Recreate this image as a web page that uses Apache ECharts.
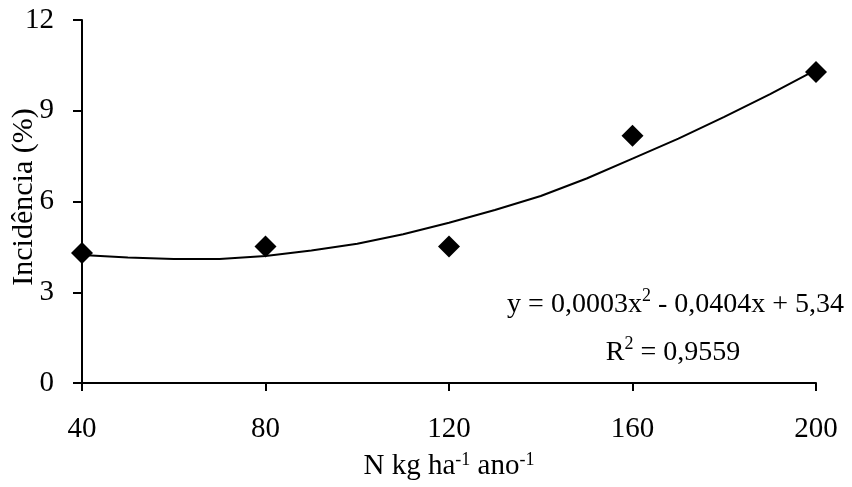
<!DOCTYPE html>
<html>
<head>
<meta charset="utf-8">
<script src="https://cdn.jsdelivr.net/npm/echarts@6/dist/echarts.min.js"></script>
<style>
  html, body { margin: 0; padding: 0; background: #fff; }
  #chart { width: 852px; height: 487px; }
</style>
</head>
<body>
<div id="chart"></div>
<script>
// observed points
var doses = [40, 80, 120, 160, 200];
var incidence = [4.3, 4.51, 4.51, 8.17, 10.28];

// trend line
var trendX = [40, 50, 60, 70, 80, 90, 100, 110, 120, 130, 140, 150, 160, 170, 180, 190, 200];
var trendY = [4.23, 4.15, 4.1, 4.1, 4.2, 4.38, 4.6, 4.92, 5.3, 5.72, 6.18, 6.76, 7.42, 8.08, 8.8, 9.55, 10.35];

var xTicks = [40, 80, 120, 160, 200];
var yTicks = [0, 3, 6, 9, 12];

var font = 'Liberation Serif, Times New Roman, serif';

var pts = [];
for (var i = 0; i < doses.length; i++) pts.push([doses[i], incidence[i]]);
var trend = [];
for (var j = 0; j < trendX.length; j++) trend.push([trendX[j], trendY[j]]);

var supStyle = { fontFamily: font, fontSize: 18, fill: '#000', verticalAlign: 'top', padding: [0, 0, 17, 0] };

var myChart = echarts.init(document.getElementById('chart'));
var option = {
    backgroundColor: '#fff',
    animation: false,
    grid: { left: 82, right: 36, top: 20, bottom: 104, outerBoundsMode: 'none', containLabel: false },
    xAxis: {
        type: 'value',
        min: xTicks[0], max: xTicks[xTicks.length - 1], interval: 40,
        splitLine: { show: false },
        axisLine: { onZero: false, lineStyle: { color: '#000', width: 2 } },
        axisTick: { show: true, length: 8, lineStyle: { color: '#000', width: 2 } },
        axisLabel: { color: '#000', fontFamily: font, fontSize: 29, margin: 32 },
        name: '{n|N kg ha}{s|-1}{n| ano}{s|-1}',
        nameLocation: 'middle',
        nameGap: 68,
        nameTextStyle: {
            rich: {
                n: { fontFamily: font, fontSize: 29, color: '#000', verticalAlign: 'bottom' },
                s: { fontFamily: font, fontSize: 18, color: '#000', verticalAlign: 'top', padding: [0, 0, 12, 0] }
            }
        }
    },
    yAxis: {
        type: 'value',
        min: yTicks[0], max: yTicks[yTicks.length - 1], interval: 3,
        splitLine: { show: false },
        axisLine: { show: true, lineStyle: { color: '#000', width: 2 } },
        axisTick: { show: true, length: 9, lineStyle: { color: '#000', width: 2 } },
        axisLabel: { color: '#000', fontFamily: font, fontSize: 29, margin: 28 }
    },
    graphic: [
        {
            // y axis title
            type: 'text',
            x: 24, y: 197,
            rotation: Math.PI / 2,
            style: {
                x: 0, y: 0, align: 'center', verticalAlign: 'middle',
                text: 'Incidência (%)',
                fontFamily: font, fontSize: 30, fill: '#000'
            }
        },
        {
            type: 'text',
            style: {
                x: 844, y: 305, align: 'right', verticalAlign: 'middle',
                text: '{n|y = 0,0003x}{s|2}{n| - 0,0404x + 5,34}',
                rich: {
                    n: { fontFamily: font, fontSize: 28, fill: '#000' },
                    s: supStyle
                }
            }
        },
        {
            type: 'text',
            style: {
                x: 673, y: 353, align: 'center', verticalAlign: 'middle',
                text: '{n|R}{s|2}{n| = 0,9559}',
                rich: {
                    n: { fontFamily: font, fontSize: 28, fill: '#000' },
                    s: supStyle
                }
            }
        }
    ],
    series: [
        {
            type: 'line',
            data: trend,
            smooth: false,
            showSymbol: false,
            lineStyle: { color: '#000', width: 2 },
            z: 2
        },
        {
            type: 'scatter',
            data: pts,
            symbol: 'diamond',
            symbolSize: [22, 22],
            itemStyle: { color: '#000', opacity: 1 },
            z: 3
        }
    ]
};
myChart.setOption(option);
</script>
</body>
</html>
